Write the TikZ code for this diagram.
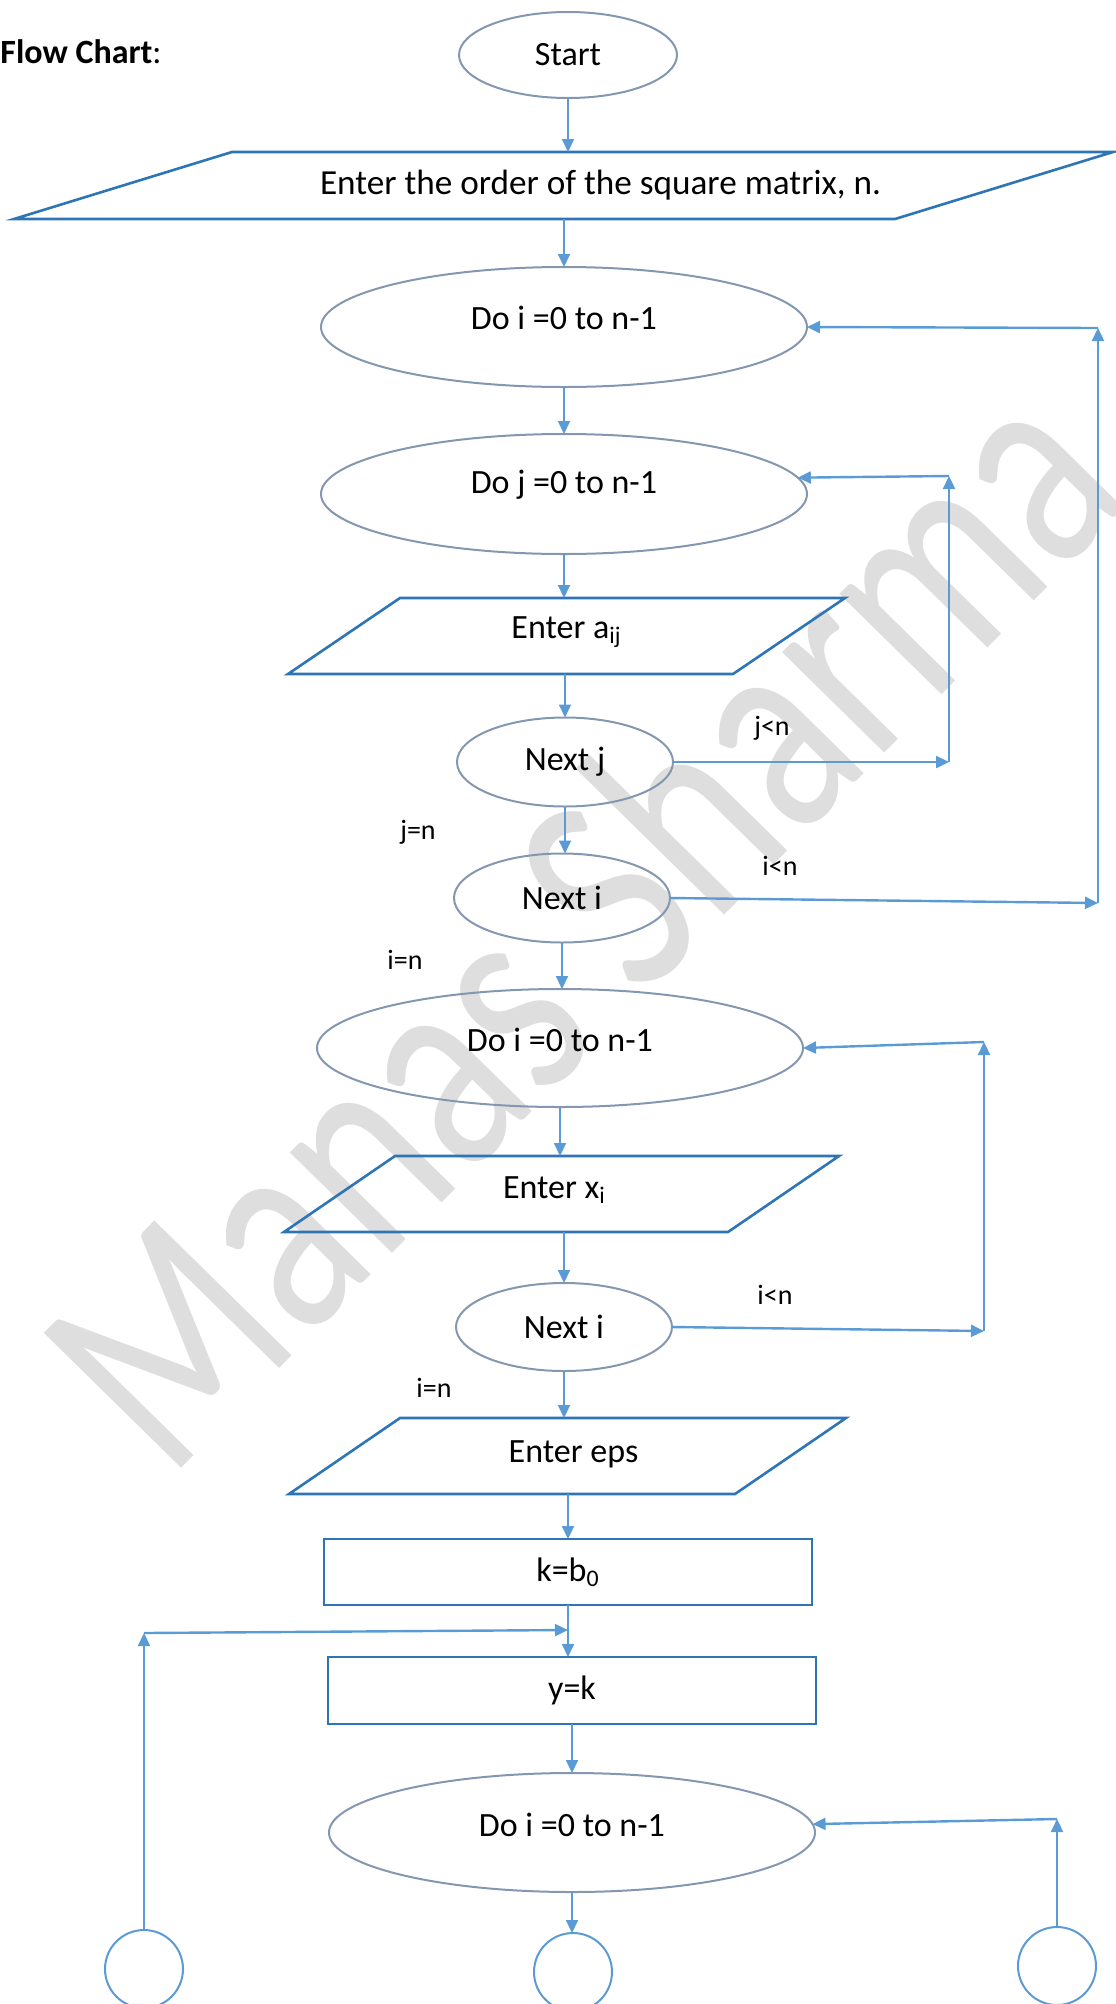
\documentclass[tikz,border=0pt]{standalone}
\usepackage{fontspec}
\setmainfont{Carlito}
\newfontfamily\wmfamily[FakeStretch=0.76]{Carlito}
\usetikzlibrary{shapes.geometric,arrows.meta,calc}
\definecolor{arrowblue}{HTML}{5B9BD5}
\definecolor{boxblue}{HTML}{2E75B6}
\definecolor{ellgrey}{HTML}{8497B0}
\definecolor{wmgrey}{HTML}{DEDEDE}
\newcommand{\mytxtfont}{\fontsize{17pt}{20pt}\selectfont}
\newcommand{\mybigtxtfont}{\fontsize{17.6pt}{20pt}\selectfont}
\newcommand{\mylblfont}{\fontsize{14pt}{16pt}\selectfont}
\newcommand{\mywmfont}{\wmfamily\fontsize{150pt}{160pt}\selectfont}
\begin{document}
\begin{tikzpicture}[x=0.5pt,y=-0.5pt,
  arr/.style={draw=arrowblue, line width=1pt, -{Triangle[length=6.5pt,width=6pt]}},
  looparr/.style={arr, line width=1.2pt},
  ell/.style={ellipse, draw=ellgrey, line width=1pt, inner sep=0pt, outer sep=0pt},
  bigell/.style={ell, minimum width=243pt, minimum height=60pt},
  smallell/.style={ell, minimum width=108pt, minimum height=44.5pt, font=\mytxtfont},
  iobox/.style={rectangle, inner sep=0pt, outer sep=0pt, minimum height=38pt},
  paraline/.style={draw=boxblue, line width=1.3pt, line join=miter},
  procbox/.style={rectangle, draw=boxblue, line width=1.3pt, inner sep=0pt, outer sep=0pt, minimum width=244pt, minimum height=33.5pt, font=\mytxtfont},
  conn/.style={circle, draw=arrowblue, line width=1pt, minimum size=39pt, inner sep=0pt, outer sep=0pt},
  txt/.style={font=\mytxtfont, inner sep=0pt},
  lbl/.style={font=\mylblfont, inner sep=0pt},
]
\useasboundingbox (0,0) rectangle (1115,2004);

% watermark
\node[rotate=45.5, anchor=base west, inner sep=0pt, text=wmgrey, font=\mywmfont] (wm) at (168,1482) {Manas Sharma};

% title
\node[anchor=base west, inner sep=0pt, font=\mytxtfont] (title) at (0,63) {\textbf{Flow Chart}:};

% start
\node[ell, minimum width=109pt, minimum height=43pt, font=\mytxtfont] (S) at (568,55) {Start};

% input n
\node[iobox, minimum width=549.5pt, minimum height=33.5pt] (P1) at (563.5,185.5) {};
\draw[paraline] ([xshift=109pt]P1.north west) -- (P1.north east) -- ([xshift=-109pt]P1.south east) -- (P1.south west) -- cycle;
\node[inner sep=0pt, font=\mybigtxtfont] (P1t) at ([xshift=18.5pt]P1.center) {Enter the order of the square matrix, n.};

% loops over i, j
\node[bigell] (E1) at (564,327) {};
\node[txt] (E1t) at ([yshift=4.5pt]E1.center) {Do i =0 to n-1};
\node[bigell] (E2) at (564,494) {};
\node[txt] (E2t) at ([yshift=4.5pt]E2.center) {Do j =0 to n-1};

\node[iobox, minimum width=278.5pt] (P2) at (566.5,636) {};
\draw[paraline] ([xshift=56pt]P2.north west) -- (P2.north east) -- ([xshift=-56pt]P2.south east) -- (P2.south west) -- cycle;
\node[txt] (P2t) at ([yshift=2pt]P2.center) {Enter a\textsubscript{ij}};

\node[smallell] (Nj) at (565,762) {Next j};
\node[smallell] (Ni) at (562,898) {Next i};

% loop over i for x
\node[bigell, minimum height=59pt] (E3) at (560,1048) {};
\node[txt] (E3t) at ([yshift=4pt]E3.center) {Do i =0 to n-1};

\node[iobox, minimum width=277.5pt] (P3) at (561.5,1194) {};
\draw[paraline] ([xshift=55.5pt]P3.north west) -- (P3.north east) -- ([xshift=-55.5pt]P3.south east) -- (P3.south west) -- cycle;
\node[txt] (P3t) at ([xshift=-3.5pt,yshift=2pt]P3.center) {Enter x\textsubscript{i}};

\node[smallell, minimum height=44pt] (Ni2) at (564,1327) {Next i};

\node[iobox, minimum width=278.5pt] (P4) at (567.5,1456) {};
\draw[paraline] ([xshift=55.5pt]P4.north west) -- (P4.north east) -- ([xshift=-55.5pt]P4.south east) -- (P4.south west) -- cycle;
\node[txt] (P4t) at ([xshift=3pt,yshift=1pt]P4.center) {Enter eps};

\node[procbox, minimum height=33pt] (B1) at (568,1572) {k=b\textsubscript{0}};
\node[procbox] (B2) at (572,1690.5) {y=k};

\node[bigell, minimum height=59.5pt] (E4) at (572,1832.5) {};
\node[txt] (E4t) at ([yshift=4pt]E4.center) {Do i =0 to n-1};

\node[conn] (C1) at (144,1969) {};
\node[conn] (C2) at (573,1972) {};
\node[conn] (C3) at (1057,1966) {};

% labels
\node[lbl] (l1) at (772,728) {j<n};
\node[lbl] (l2) at (418,832) {j=n};
\node[lbl] (l3) at (780,866) {i<n};
\node[lbl] (l4) at (405,960) {i=n};
\node[lbl] (l5) at (775,1295) {i<n};
\node[lbl] (l6) at (434,1388) {i=n};

% main flow
\draw[arr] (S.south) -- (S.south |- P1.north);
\draw[arr] (P1.south -| E1.north) -- (E1.north);
\draw[arr] (E1.south) -- (E1.south |- E2.north);
\draw[arr] (E2.south) -- (E2.south |- P2.north);
\draw[arr] (P2.south -| Nj.north) -- (Nj.north);
\draw[arr] (Nj.south) -- (Nj.south |- Ni.north);
\draw[arr] (Ni.south) -- (Ni.south |- E3.north);
\draw[arr] (E3.south) -- (E3.south |- P3.north);
\draw[arr] (P3.south -| Ni2.north) -- (Ni2.north);
\draw[arr] (Ni2.south) -- (Ni2.south |- P4.north);
\draw[arr] (P4.south -| B1.north) -- (B1.north);
\draw[arr] (B1.south) -- (B1.south |- B2.north);
\draw[arr] (B2.south) -- (B2.south |- E4.north);
\draw[arr] (E4.south) -- (E4.south |- C2.north);

% j loop
\coordinate (jR) at (949,762);
\coordinate (jT) at (949,476);
\draw[looparr] (Nj.east) -- (jR);
\draw[looparr] (jR) -- (jT);
\draw[looparr] (jT) -- (E2.4.4);

% i loop
\coordinate (iR) at (1098,903);
\coordinate (iT) at (1098,328);
\draw[looparr] (Ni.east) -- (iR);
\draw[looparr] (iR) -- (iT);
\draw[looparr] (iT) -- (E1.east);

% x loop
\coordinate (kR) at (984,1331);
\coordinate (kT) at (984,1042);
\draw[looparr] (Ni2.east) -- (kR);
\draw[looparr] (kR) -- (kT);
\draw[looparr] (kT) -- (E3.east);

% bottom right loop
\coordinate (rT) at (1057,1819);
\draw[looparr] (C3.north) -- (rT);
\draw[looparr] (rT) -- (E4.2.9);

% bottom left loop
\coordinate (lT) at (144,1633);
\path (B1.south) ++(0,25) coordinate (lE);
\draw[looparr] (C1.north) -- (lT);
\draw[looparr] (lT) -- (lE);
\end{tikzpicture}
\end{document}
